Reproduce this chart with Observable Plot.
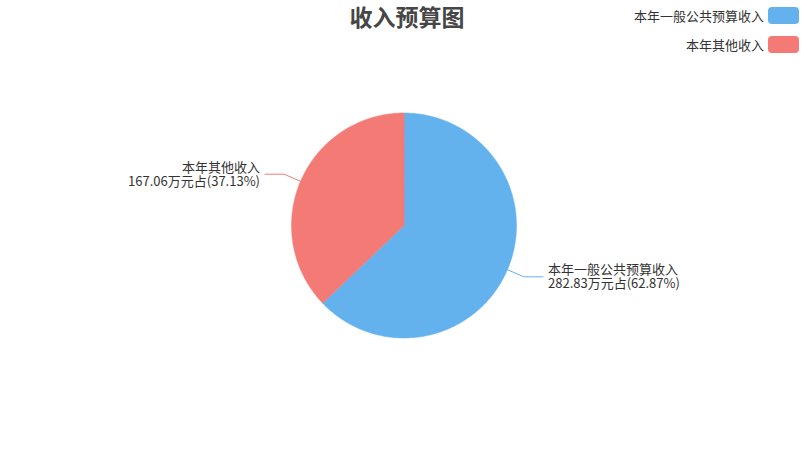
<!DOCTYPE html>
<html><head><meta charset="utf-8">
<script src="https://cdn.jsdelivr.net/npm/d3@7"></script>
<script src="https://cdn.jsdelivr.net/npm/@observablehq/plot@0.6"></script>
<style>
body{margin:0;background:#fff;font-family:"Noto Sans CJK SC","Noto Sans",sans-serif;}
#wrap{position:relative;width:806px;height:450px;overflow:hidden;}
#title{position:absolute;top:1px;left:4px;width:806px;text-align:center;font-size:23px;font-weight:bold;color:#464646;line-height:30px;z-index:2;}
#legend{position:absolute;top:7px;right:7px;z-index:2;}
.item{display:flex;align-items:center;justify-content:flex-end;height:17px;margin-bottom:12px;font-size:13px;color:#333;}
.sw{width:31px;height:17px;border-radius:4px;margin-left:4px;}
#chart{position:absolute;top:0;left:0;}
</style></head>
<body>
<div id="wrap">
  <div id="title"></div>
  <div id="legend"></div>
  <div id="chart"></div>
</div>
<script>
const titleText = "收入预算图";
const categories = ["本年一般公共预算收入", "本年其他收入"];
const values = [282.83, 167.06];
const percents = ["62.87%", "37.13%"];
const colors = ["#63b2ee", "#f47a75"];

// layout constants
const W = 806, H = 450, cx = 403.5, cy = 225, R = 112.5, len1 = 18, len2 = 19, gap = 5;

document.getElementById("title").textContent = titleText;
const legend = document.getElementById("legend");
categories.forEach((c, i) => {
  const row = document.createElement("div");
  row.className = "item";
  const t = document.createElement("span"); t.textContent = c;
  const s = document.createElement("div"); s.className = "sw"; s.style.background = colors[i];
  row.appendChild(t); row.appendChild(s); legend.appendChild(row);
});

const data = categories.map((c, i) => ({cat: c, value: values[i], pct: percents[i]}));
const arcs = d3.pie().sort(null).value(d => d.value)(data);
const pt = (a, r) => [cx + r * Math.sin(a), cy - r * Math.cos(a)];

const slicePts = [];
arcs.forEach(a => {
  const n = Math.max(2, Math.ceil((a.endAngle - a.startAngle) / 0.01));
  slicePts.push({cat: a.data.cat, x: cx, y: cy});
  for (let k = 0; k <= n; k++) {
    const ang = a.startAngle + (a.endAngle - a.startAngle) * k / n;
    const [x, y] = pt(ang, R);
    slicePts.push({cat: a.data.cat, x, y});
  }
});

const leaderPts = [];
const labels = [];
arcs.forEach(a => {
  const m = (a.startAngle + a.endAngle) / 2;
  const side = Math.sin(m) >= 0 ? 1 : -1;
  const p0 = pt(m, R), p1 = pt(m, R + len1), p2 = [p1[0] + side * len2, p1[1]];
  [p0, p1, p2].forEach(p => leaderPts.push({cat: a.data.cat, x: p[0], y: p[1]}));
  labels.push({
    cat: a.data.cat,
    x: p2[0] + side * gap, y: p2[1],
    anchor: side > 0 ? "start" : "end",
    text: a.data.cat + "\n" + a.data.value.toFixed(2) + "万元占(" + a.data.pct + ")"
  });
});

const plot = Plot.plot({
  width: W, height: H, margin: 0,
  x: {domain: [0, W], range: [0, W], axis: null},
  y: {domain: [0, H], range: [0, H], axis: null},
  color: {domain: categories, range: colors},
  style: {fontFamily: '"Noto Sans CJK SC", sans-serif', background: "transparent"},
  marks: [
    Plot.line(slicePts, {x: "x", y: "y", z: "cat", fill: "cat", stroke: "cat", strokeWidth: 0.5, curve: "linear-closed"}),
    Plot.line(leaderPts, {x: "x", y: "y", z: "cat", stroke: "cat", strokeWidth: 1}),
    Plot.text(labels.filter(d => d.anchor === "start"), {x: "x", y: "y", text: "text", textAnchor: "start", lineAnchor: "middle", fontSize: 13, fill: "#333", lineHeight: 1.08}),
    Plot.text(labels.filter(d => d.anchor === "end"), {x: "x", y: "y", text: "text", textAnchor: "end", lineAnchor: "middle", fontSize: 13, fill: "#333", lineHeight: 1.08})
  ]
});
document.getElementById("chart").appendChild(plot);
</script>
</body></html>
